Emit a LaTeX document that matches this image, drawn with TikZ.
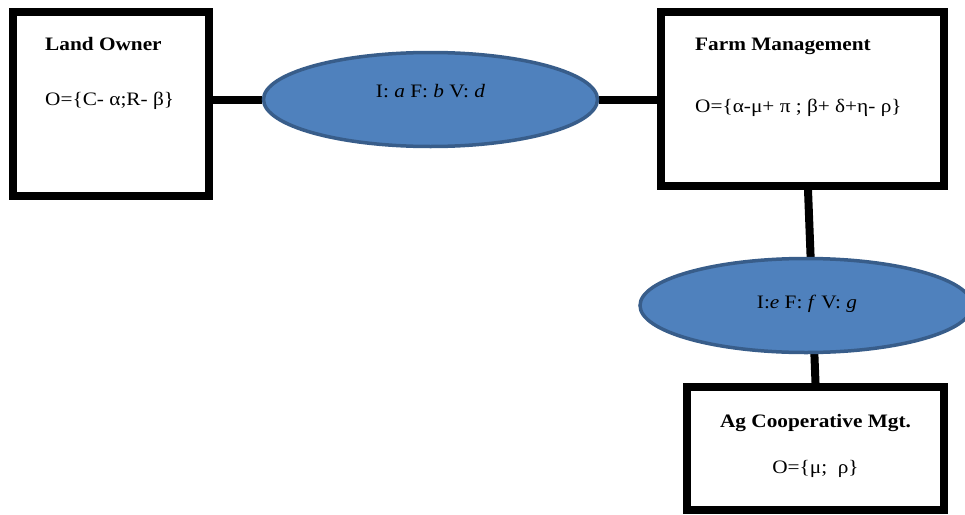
\documentclass[tikz,border=0pt]{standalone}
\usepackage{fontspec}
\setmainfont{Liberation Serif}[FakeStretch=1.12]
\usetikzlibrary{shapes.geometric,backgrounds}
\definecolor{ovalfill}{HTML}{4F81BD}
\definecolor{ovalline}{HTML}{385D8A}
\begin{document}
\begin{tikzpicture}[x=1pt,y=-1pt,
  party/.style={draw=black,line width=8pt,fill=white,rectangle,inner sep=0pt},
  oval/.style={ellipse,draw=ovalline,line width=3.5pt,fill=ovalfill,inner sep=0pt},
  link/.style={draw=black,line width=8pt},
  txt/.style={inner sep=0pt,font=\fontsize{19}{23}\selectfont},
  head/.style={txt,font=\fontsize{19}{23}\selectfont\bfseries}]
\useasboundingbox (0,0) rectangle (965,514);

% actors
\node[party,minimum width=195.5pt,minimum height=184pt] (lo) at (110.75,104) {};
\node[party,minimum width=283pt,minimum height=174pt] (fm) at (802.5,99) {};
\node[party,minimum width=257pt,minimum height=123pt] (ag) at (815.5,448.5) {};

% contracts between the actors
\node[oval,minimum width=334pt,minimum height=94pt] (e1) at (430.5,99.5) {};
\node[oval,minimum width=332pt,minimum height=94pt] (e2) at (806,305.5) {};

% texts
\node[head,anchor=base west] (lot) at (45,50) {Land Owner};
\node[txt,anchor=base west] (loo) at (45,105) {O=\{C- α;R- β\}};
\node[head,anchor=base west] (fmt) at (695,50) {Farm Management};
\node[txt,anchor=base west] (fmo) at (695,112) {O=\{α-μ+ π ; β+ δ+η- ρ\}};
\node[head,anchor=base] (agt) at (815.5,427) {Ag Cooperative Mgt.};
\node[txt,anchor=base] (ago) at (815.5,473) {O=\{μ;\ \ ρ\}};
\node[txt,anchor=base] (e1t) at (430.5,97) {I: \textit{a} F: \textit{b} V: \textit{d}};
\node[txt,anchor=base] (e2t) at (807,308) {I:\textit{e} F: \textit{f} V: \textit{g}};

% connectors
\begin{scope}[on background layer]
  \draw[link] (e1.west) -- (e1.west -| lo.east);
  \draw[link] (e1.east) -- (e1.east -| fm.west);
  \coordinate (fmfoot) at ([xshift=5.5pt]fm.south);
  \draw[link] (fmfoot) -- (ag.north);
\end{scope}
\end{tikzpicture}
\end{document}
